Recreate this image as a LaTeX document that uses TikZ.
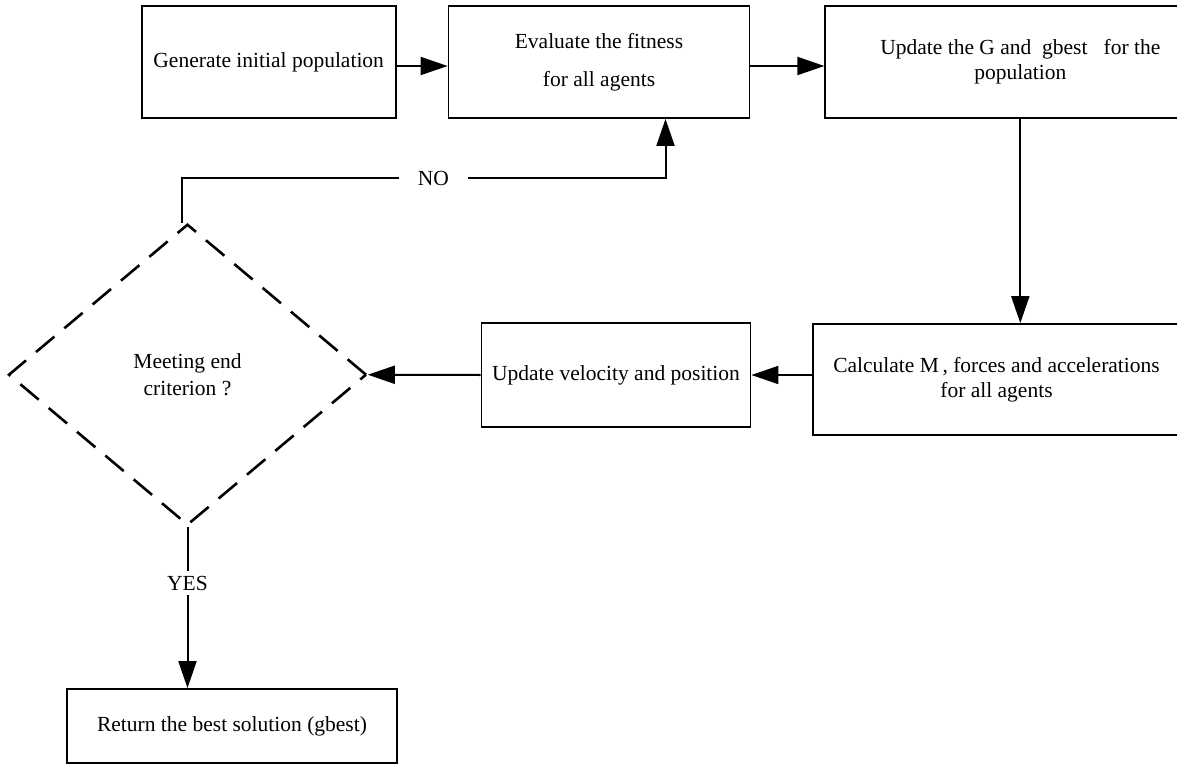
\documentclass[tikz,border=0pt]{standalone}
\usepackage{fontspec}
\setmainfont{Liberation Serif}
\usetikzlibrary{positioning,shapes.geometric,arrows.meta}

\tikzstyle{block} = [draw, rectangle, line width=1.8pt, align=center, inner sep=0pt, font=\fontsize{21.5}{25}\selectfont]
\tikzstyle{decision} = [draw, diamond, dash pattern=on 24pt off 13pt, line width=2.6pt, align=center, inner sep=0pt, minimum width=358pt, minimum height=301pt, font=\fontsize{21.5}{27}\selectfont]
\tikzstyle{arrow} = [-{Triangle[length=27pt,width=18pt]}, line width=2pt]
\tikzstyle{answer} = [fill=white, inner xsep=19pt, inner ysep=5pt, font=\fontsize{21.5}{24}\selectfont]

\begin{document}
\begin{tikzpicture}[x=1pt, y=-1pt]
  \useasboundingbox (0,0) rectangle (1177,765);

  \node[block, minimum width=254pt, minimum height=112pt] (gen) at (268.7,62) {Generate initial population};
  \node[block, minimum width=301pt, minimum height=112pt, right=51pt of gen] (eval) {Evaluate the fitness\\[13pt] for all agents};
  \node[block, minimum width=390pt, minimum height=112pt, right=74pt of eval] (upd) {Update the G and\ \ gbest\ \ \ for the\\ population};
  \node[block, minimum width=367pt, minimum height=111pt] (calc) at (996.5,379.5) {Calculate M\,, forces and accelerations\\ for all agents};
  \node[block, minimum width=269pt, minimum height=104pt] (vel) at (616,375) {Update velocity and position};
  \node[decision] (crit) at (187.5,374.7) {Meeting end\\ criterion ?};
  \node[block, minimum width=330pt, minimum height=74pt] (ret) at (232,726) {Return the best solution (gbest)};

  \coordinate (turn) at (181.7,178);
  \coordinate (back) at ([xshift=66.5pt]eval.south);

  \draw[arrow] ([yshift=-4pt]gen.east) -- ([yshift=-4pt]eval.west);
  \draw[arrow] ([yshift=-4pt]eval.east) -- ([yshift=-4pt]upd.west);
  \draw[arrow] (upd.south) -- (upd.south |- calc.north);
  \draw[arrow] (calc.west |- vel.east) -- (vel.east);
  \draw[arrow] (vel.west) -- (crit.east);
  \draw[arrow] (crit.south) -- node[answer, inner xsep=2pt, pos=0.35] {YES} (crit.south |- ret.north);
  \draw[arrow] (turn |- crit.north) -- (turn) -| node[answer, pos=0.26] {NO} (back);

\end{tikzpicture}
\end{document}
